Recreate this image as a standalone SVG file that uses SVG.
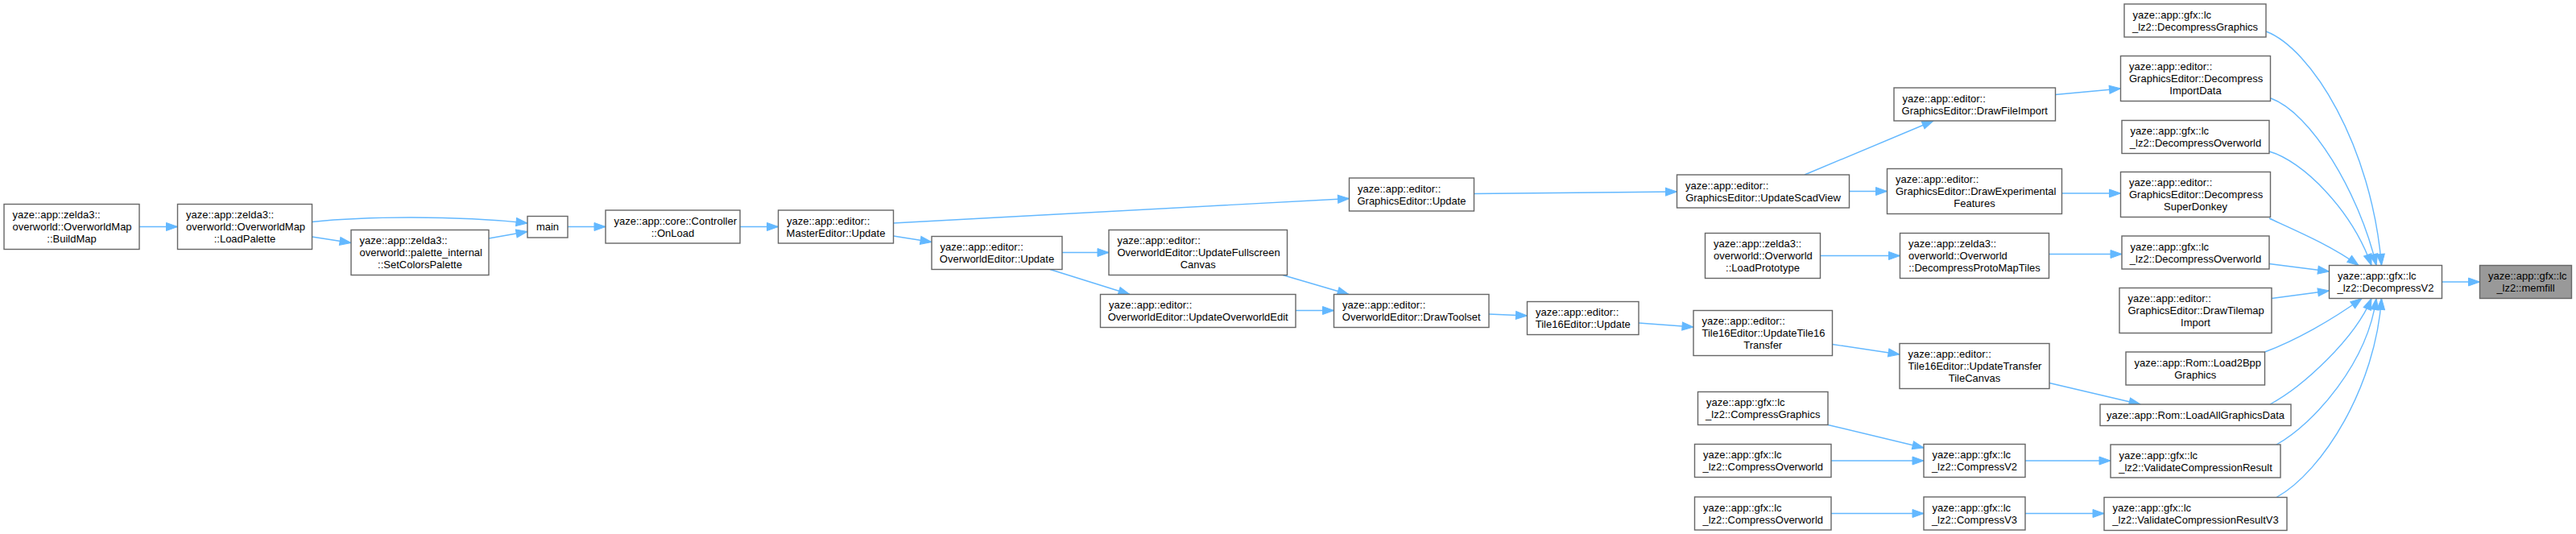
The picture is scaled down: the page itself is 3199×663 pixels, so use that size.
<svg xmlns="http://www.w3.org/2000/svg" width="3199" height="663" viewBox="0 0 3199 663">
<style>
.n rect{fill:#fff;stroke:#666;stroke-width:1.4}
.f rect{fill:#999}
text{font-family:"Liberation Sans",Arial,sans-serif;font-size:13px;fill:#000}
.m{text-anchor:middle}
.e path{fill:none;stroke:#63b8ff;stroke-width:1.4;marker-end:url(#a)}
</style>
<defs>
<marker id="a" markerUnits="userSpaceOnUse" markerWidth="16" markerHeight="12" viewBox="0 0 16 12" refX="15" refY="6" orient="auto">
<path d="M1,1 L15,6 L1,11 z" fill="#63b8ff" stroke="#63b8ff" stroke-width="1"/>
</marker>
</defs>
<rect width="3199" height="663" fill="#fff"/>
<g class="e" id="edges">
<path d="M173,281.5 L220.5,281.5"/>
<path d="M387.5,275.5 C450,269 560,267 655,277"/>
<path d="M387.5,294 L436,301.5"/>
<path d="M607,296 L655,287.5"/>
<path d="M705,281.5 L752,281.5"/>
<path d="M919,281.5 L966.5,281.5"/>
<path d="M1109.5,277 C1300,267 1500,255 1675.5,246.5"/>
<path d="M1109.5,293 L1157,300.5"/>
<path d="M1319,313.5 L1377,313.5"/>
<path d="M1304,334.5 L1403,365.5"/>
<path d="M1593,341.5 L1675,365.5"/>
<path d="M1609,385.5 L1656.5,385.5"/>
<path d="M1849,390 L1896.5,392"/>
<path d="M1830.5,240.5 L2082.5,238"/>
<path d="M2035,401 L2103,406"/>
<path d="M2241,217 L2401,150"/>
<path d="M2296.5,237.5 L2343.5,237.5"/>
<path d="M2260.5,317.5 L2359.5,317.5"/>
<path d="M2275.5,427.5 L2359,440"/>
<path d="M2270,527.5 L2389,556"/>
<path d="M2274,572 L2389,572"/>
<path d="M2274,637.5 L2389,637.5"/>
<path d="M2552.5,117.5 L2633.5,110"/>
<path d="M2560.5,240 L2633.5,240"/>
<path d="M2544.5,315.5 L2635,315.5"/>
<path d="M2545,475.5 L2658,502"/>
<path d="M2515,572 L2621,572"/>
<path d="M2515,637.5 L2613,637.5"/>
<path d="M2814,39 C2870,60 2945,180 2957.5,329.5"/>
<path d="M2820,122 C2870,140 2930,240 2951,329.5"/>
<path d="M2818,188 C2860,200 2920,260 2945,329.5"/>
<path d="M2818,271 C2855,288 2895,305 2929,329.5"/>
<path d="M2818,327.5 L2892.5,337"/>
<path d="M2821,370.5 L2892.5,361"/>
<path d="M2812.5,437 C2850,423 2895,398 2933,370.5"/>
<path d="M2819,502 C2860,480 2925,420 2945,370.5"/>
<path d="M2827,552 C2875,525 2940,450 2951,370.5"/>
<path d="M2827,617.5 C2885,585 2950,480 2957.5,370.5"/>
<path d="M3032.5,350 L3079.5,350"/>
</g>
<g class="n" id="n_buildmap"><rect x="5" y="253.5" width="168" height="56"/><text x="15.5" y="270.5">yaze::app::zelda3::</text><text x="15.5" y="285.5">overworld::OverworldMap</text><text class="m" x="89" y="300.5">::BuildMap</text></g>
<g class="n" id="n_loadpalette"><rect x="220.5" y="253.5" width="167" height="56"/><text x="231" y="270.5">yaze::app::zelda3::</text><text x="231" y="285.5">overworld::OverworldMap</text><text class="m" x="304" y="300.5">::LoadPalette</text></g>
<g class="n" id="n_setcolorspalette"><rect x="436" y="285.5" width="171" height="56"/><text x="446.5" y="302.5">yaze::app::zelda3::</text><text x="446.5" y="317.5">overworld::palette_internal</text><text class="m" x="521.5" y="332.5">::SetColorsPalette</text></g>
<g class="n" id="n_main"><rect x="655" y="268.5" width="50" height="26.5"/><text class="m" x="680" y="286">main</text></g>
<g class="n" id="n_controller"><rect x="752" y="261" width="167" height="41"/><text x="762.5" y="278.5">yaze::app::core::Controller</text><text class="m" x="835.5" y="293.5">::OnLoad</text></g>
<g class="n" id="n_mastereditor"><rect x="966.5" y="261" width="143" height="41"/><text x="977" y="278.5">yaze::app::editor::</text><text class="m" x="1038" y="293.5">MasterEditor::Update</text></g>
<g class="n" id="n_owupdate"><rect x="1157" y="293.5" width="162" height="41"/><text x="1167.5" y="311">yaze::app::editor::</text><text class="m" x="1238" y="326">OverworldEditor::Update</text></g>
<g class="n" id="n_gfxupdate"><rect x="1675.5" y="221" width="155" height="41"/><text x="1686" y="238.5">yaze::app::editor::</text><text class="m" x="1753" y="253.5">GraphicsEditor::Update</text></g>
<g class="n" id="n_fullscreen"><rect x="1377" y="285.5" width="221.5" height="56"/><text x="1387.5" y="302.5">yaze::app::editor::</text><text x="1387.5" y="317.5">OverworldEditor::UpdateFullscreen</text><text class="m" x="1487.75" y="332.5">Canvas</text></g>
<g class="n" id="n_owedit"><rect x="1366.5" y="365.5" width="242.5" height="41"/><text x="1377" y="383">yaze::app::editor::</text><text class="m" x="1487.75" y="398">OverworldEditor::UpdateOverworldEdit</text></g>
<g class="n" id="n_drawtoolset"><rect x="1656.5" y="365.5" width="192.5" height="41"/><text x="1667" y="383">yaze::app::editor::</text><text class="m" x="1752.75" y="398">OverworldEditor::DrawToolset</text></g>
<g class="n" id="n_t16update"><rect x="1896.5" y="374.5" width="138.5" height="41"/><text x="1907" y="392">yaze::app::editor::</text><text class="m" x="1965.75" y="407">Tile16Editor::Update</text></g>
<g class="n" id="n_scadview"><rect x="2082.5" y="217" width="214" height="41"/><text x="2093" y="234.5">yaze::app::editor::</text><text class="m" x="2189.5" y="249.5">GraphicsEditor::UpdateScadView</text></g>
<g class="n" id="n_loadprototype"><rect x="2117.5" y="289.5" width="143" height="56"/><text x="2128" y="306.5">yaze::app::zelda3::</text><text x="2128" y="321.5">overworld::Overworld</text><text class="m" x="2189" y="336.5">::LoadPrototype</text></g>
<g class="n" id="n_t16transfer"><rect x="2103" y="385.5" width="172.5" height="56"/><text x="2113.5" y="402.5">yaze::app::editor::</text><text x="2113.5" y="417.5">Tile16Editor::UpdateTile16</text><text class="m" x="2189.25" y="432.5">Transfer</text></g>
<g class="n" id="n_compressgfx"><rect x="2108.5" y="486.5" width="161.5" height="41"/><text x="2119" y="504">yaze::app::gfx::lc</text><text class="m" x="2189.25" y="519">_lz2::CompressGraphics</text></g>
<g class="n" id="n_compressow1"><rect x="2104.5" y="551.5" width="169.5" height="41"/><text x="2115" y="569">yaze::app::gfx::lc</text><text class="m" x="2189.25" y="584">_lz2::CompressOverworld</text></g>
<g class="n" id="n_compressow2"><rect x="2104.5" y="617" width="169.5" height="41"/><text x="2115" y="634.5">yaze::app::gfx::lc</text><text class="m" x="2189.25" y="649.5">_lz2::CompressOverworld</text></g>
<g class="n" id="n_drawfileimport"><rect x="2352" y="109" width="200.5" height="41"/><text x="2362.5" y="126.5">yaze::app::editor::</text><text class="m" x="2452.25" y="141.5">GraphicsEditor::DrawFileImport</text></g>
<g class="n" id="n_drawexp"><rect x="2343.5" y="209.5" width="217" height="56"/><text x="2354" y="226.5">yaze::app::editor::</text><text x="2354" y="241.5">GraphicsEditor::DrawExperimental</text><text class="m" x="2452" y="256.5">Features</text></g>
<g class="n" id="n_protomaptiles"><rect x="2359.5" y="289.5" width="185" height="56"/><text x="2370" y="306.5">yaze::app::zelda3::</text><text x="2370" y="321.5">overworld::Overworld</text><text class="m" x="2452" y="336.5">::DecompressProtoMapTiles</text></g>
<g class="n" id="n_transfercanvas"><rect x="2359" y="426.5" width="186" height="56"/><text x="2369.5" y="443.5">yaze::app::editor::</text><text x="2369.5" y="458.5">Tile16Editor::UpdateTransfer</text><text class="m" x="2452" y="473.5">TileCanvas</text></g>
<g class="n" id="n_compressv2"><rect x="2389" y="551.5" width="126" height="41"/><text x="2399.5" y="569">yaze::app::gfx::lc</text><text class="m" x="2452" y="584">_lz2::CompressV2</text></g>
<g class="n" id="n_compressv3"><rect x="2389" y="617" width="126" height="41"/><text x="2399.5" y="634.5">yaze::app::gfx::lc</text><text class="m" x="2452" y="649.5">_lz2::CompressV3</text></g>
<g class="n" id="n_decompgfx"><rect x="2638" y="5" width="176" height="41"/><text x="2648.5" y="22.5">yaze::app::gfx::lc</text><text class="m" x="2726" y="37.5">_lz2::DecompressGraphics</text></g>
<g class="n" id="n_decompimport"><rect x="2633.5" y="69.5" width="186" height="56"/><text x="2644" y="86.5">yaze::app::editor::</text><text x="2644" y="101.5">GraphicsEditor::Decompress</text><text class="m" x="2726.5" y="116.5">ImportData</text></g>
<g class="n" id="n_decompow1"><rect x="2635" y="149.5" width="183" height="41"/><text x="2645.5" y="167">yaze::app::gfx::lc</text><text class="m" x="2726.5" y="182">_lz2::DecompressOverworld</text></g>
<g class="n" id="n_decompdonkey"><rect x="2633.5" y="213.5" width="186" height="56"/><text x="2644" y="230.5">yaze::app::editor::</text><text x="2644" y="245.5">GraphicsEditor::Decompress</text><text class="m" x="2726.5" y="260.5">SuperDonkey</text></g>
<g class="n" id="n_decompow2"><rect x="2635" y="293" width="183" height="41"/><text x="2645.5" y="310.5">yaze::app::gfx::lc</text><text class="m" x="2726.5" y="325.5">_lz2::DecompressOverworld</text></g>
<g class="n" id="n_tilemapimport"><rect x="2632" y="357.5" width="189" height="56"/><text x="2642.5" y="374.5">yaze::app::editor::</text><text x="2642.5" y="389.5">GraphicsEditor::DrawTilemap</text><text class="m" x="2726.5" y="404.5">Import</text></g>
<g class="n" id="n_load2bpp"><rect x="2640" y="437" width="172.5" height="41"/><text x="2650.5" y="454.5">yaze::app::Rom::Load2Bpp</text><text class="m" x="2726.25" y="469.5">Graphics</text></g>
<g class="n" id="n_loadallgfx"><rect x="2608" y="502" width="237" height="26.5"/><text class="m" x="2726.5" y="519.5">yaze::app::Rom::LoadAllGraphicsData</text></g>
<g class="n" id="n_validate"><rect x="2621" y="552" width="211" height="41"/><text x="2631.5" y="569.5">yaze::app::gfx::lc</text><text class="m" x="2726.5" y="584.5">_lz2::ValidateCompressionResult</text></g>
<g class="n" id="n_validatev3"><rect x="2613" y="617.5" width="227" height="41"/><text x="2623.5" y="635">yaze::app::gfx::lc</text><text class="m" x="2726.5" y="650">_lz2::ValidateCompressionResultV3</text></g>
<g class="n" id="n_decompv2"><rect x="2892.5" y="329.5" width="140" height="41"/><text x="2903" y="347">yaze::app::gfx::lc</text><text class="m" x="2962.5" y="362">_lz2::DecompressV2</text></g>
<g class="n f" id="n_memfill"><rect x="3079.5" y="329.5" width="114" height="41"/><text x="3090" y="347">yaze::app::gfx::lc</text><text class="m" x="3136.5" y="362">_lz2::memfill</text></g>
</svg>
